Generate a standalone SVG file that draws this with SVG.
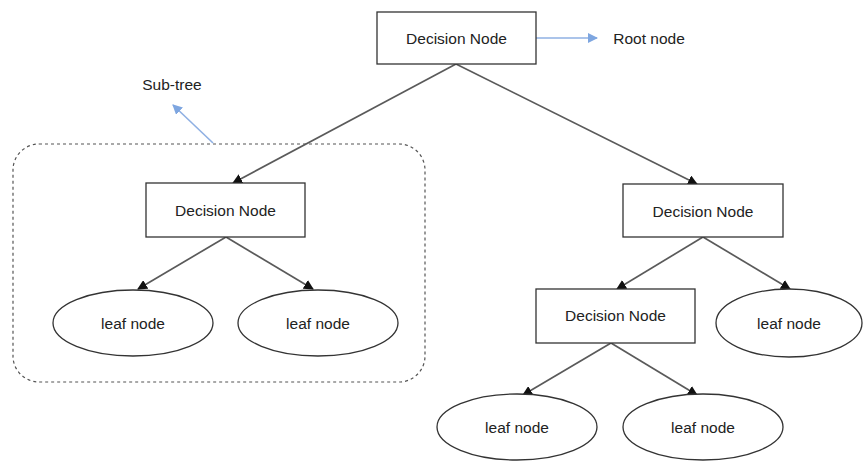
<svg xmlns="http://www.w3.org/2000/svg" width="865" height="461" viewBox="0 0 865 461">
<style>
.box{fill:#fff;stroke:#333;stroke-width:1.3}
.t{font-family:"Liberation Sans",Arial,sans-serif;font-size:15.5px;fill:#222;text-anchor:middle}
.edge{stroke:#5a5a5a;stroke-width:1.7;fill:none;marker-end:url(#ah)}
.blue{stroke:#8fb0e3;stroke-width:1.6;fill:none;marker-end:url(#bh)}
</style>
<defs>
<marker id="ah" viewBox="0 0 10 10" refX="9" refY="5" markerWidth="10" markerHeight="10" markerUnits="userSpaceOnUse" orient="auto"><path d="M0,0 L10,5 L0,10 z" fill="#111"/></marker>
<marker id="bh" viewBox="0 0 10 10" refX="9" refY="5" markerWidth="10" markerHeight="10" markerUnits="userSpaceOnUse" orient="auto"><path d="M0,0 L10,5 L0,10 z" fill="#7ea6e0"/></marker>
</defs>
<rect width="865" height="461" fill="#fff"/>
<g id="subtree">
<rect x="13" y="144" width="412" height="238" rx="26" ry="26" fill="none" stroke="#555" stroke-width="1.2" stroke-dasharray="3,3"/>
</g>
<g id="connectors">
<line class="edge" x1="456" y1="64" x2="233" y2="183"/>
<line class="edge" x1="456" y1="64" x2="697" y2="184"/>
<line class="edge" x1="226" y1="237" x2="138" y2="289"/>
<line class="edge" x1="226" y1="237" x2="313" y2="289"/>
<line class="edge" x1="703" y1="237" x2="617" y2="289"/>
<line class="edge" x1="703" y1="237" x2="790" y2="289"/>
<line class="edge" x1="611" y1="343" x2="523" y2="395"/>
<line class="edge" x1="611" y1="343" x2="697" y2="395"/>
<line class="blue" x1="536" y1="38" x2="597" y2="38"/>
<line class="blue" x1="213" y1="143" x2="173" y2="105"/>
</g>
<g id="root"><rect class="box" x="377" y="12" width="159" height="52"/><text class="t" x="456.5" y="43.5">Decision Node</text></g>
<g id="root-label"><text class="t" x="649" y="43.5">Root node</text></g>
<g id="subtree-label"><text class="t" x="172" y="90">Sub-tree</text></g>
<g id="dn-left"><rect class="box" x="146" y="183" width="159" height="54"/><text class="t" x="225.5" y="215.5">Decision Node</text></g>
<g id="leaf1"><ellipse class="box" cx="133" cy="323" rx="80" ry="33"/><text class="t" x="133" y="328.5">leaf node</text></g>
<g id="leaf2"><ellipse class="box" cx="318" cy="323" rx="80" ry="33"/><text class="t" x="318" y="328.5">leaf node</text></g>
<g id="dn-right"><rect class="box" x="623" y="184" width="160" height="53"/><text class="t" x="703" y="216.5">Decision Node</text></g>
<g id="dn-mid"><rect class="box" x="536" y="289" width="159" height="54"/><text class="t" x="615.5" y="320.5">Decision Node</text></g>
<g id="leaf3"><ellipse class="box" cx="789" cy="323" rx="73" ry="34"/><text class="t" x="789" y="328.5">leaf node</text></g>
<g id="leaf4"><ellipse class="box" cx="517" cy="427" rx="80" ry="33"/><text class="t" x="517" y="432.5">leaf node</text></g>
<g id="leaf5"><ellipse class="box" cx="703" cy="427" rx="80" ry="33"/><text class="t" x="703" y="432.5">leaf node</text></g>
</svg>
